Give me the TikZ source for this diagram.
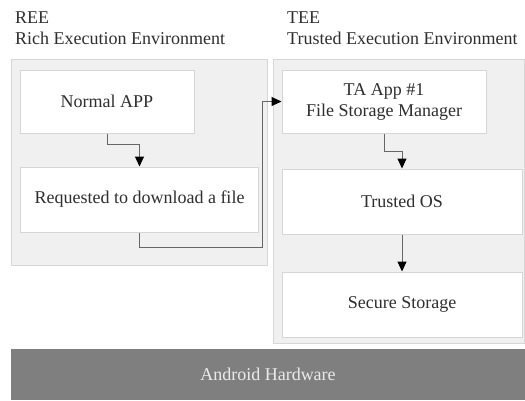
\documentclass[tikz,border=0pt]{standalone}
\usepackage{fontspec}
\setmainfont{Liberation Serif}
\usetikzlibrary{arrows.meta}
\definecolor{panelgray}{HTML}{F0F0F0}
\definecolor{linegray}{HTML}{D6D6D6}
\definecolor{textgray}{HTML}{2E2E2E}
\definecolor{hwgray}{HTML}{7F7F7F}
\begin{document}
\begin{tikzpicture}[x=1pt,y=-1pt,
  every node/.style={font=\fontsize{18}{21}\selectfont, text=textgray},
  panel/.style={draw=linegray, fill=panelgray, line width=1pt},
  box/.style={draw=linegray, fill=white, line width=1pt, inner sep=0pt, align=center},
  flow/.style={draw=black!60, line width=1pt, -{Triangle[length=10pt,width=9pt,fill=black,color=black]}}]
 		\useasboundingbox (0,0) rectangle (525,400);
 		% environments
 		\draw[panel] (11,59) rectangle (267,265);
 		\draw[panel] (273,59) rectangle (524,343);
 		\node[anchor=north west, align=left, inner sep=0pt] (reetitle) at (15,12) {REE\\Rich Execution Environment};
 		\node[anchor=north west, align=left, inner sep=0pt] (teetitle) at (287,12) {TEE\\Trusted Execution Environment};
 		% boxes
 		\node[box, minimum width=174pt, minimum height=63pt] (normal) at (107,101.5) {Normal APP};
 		\node[box, minimum width=238pt, minimum height=65pt] (request) at (139.5,199.5) {Requested to download a file};
 		\node[box, minimum width=204pt, minimum height=63pt] (ta) at (384,101.5) {TA App \#1\\File Storage Manager};
 		\foreach \name/\y/\txt in {os/201.5/Trusted OS, storage/304.5/Secure Storage}
 				{\node[box, minimum width=240pt, minimum height=65pt] (\name) at (402,\y) {\txt};}
 		\node[fill=hwgray, text=white!92!black, minimum width=514pt, minimum height=51pt] (hw) at (268,374.5) {Android Hardware};
 		% connectors
 		\coordinate (bend) at (262,247);
 		\draw[flow] (normal.south) -- ++(0,11) -| (request.north);
 		\draw[flow] (request.south) |- (bend) |- (ta.west);
 		\draw[flow] (ta.south) -- ++(0,18) -| (os.north);
 		\draw[flow] (os.south) -- (storage.north);
\end{tikzpicture}
\end{document}
